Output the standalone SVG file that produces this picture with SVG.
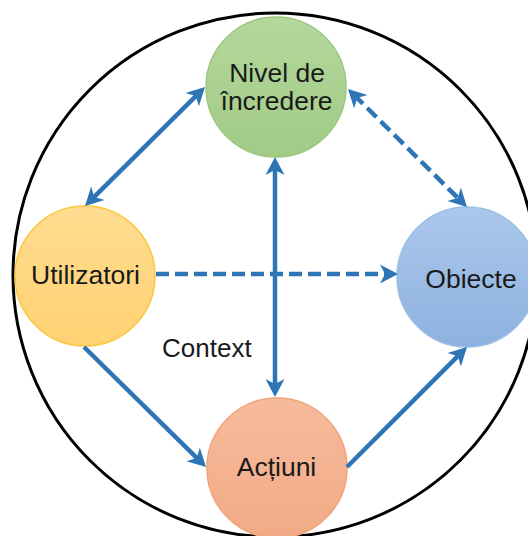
<svg xmlns="http://www.w3.org/2000/svg" width="528" height="536" viewBox="0 0 528 536">
  <style>
    .frame { fill: none; stroke: #000; stroke-width: 3; }
    .node { stroke-width: 1.5; }
    .label { font-family: "Liberation Sans", Arial, sans-serif; font-size: 26.5px; fill: #1a1a1a; text-anchor: middle; }
    .link { fill: none; stroke: #2e75b6; stroke-width: 4.5; }
    .dash { stroke-dasharray: 13 6; }
  </style>
  <defs>
    <linearGradient id="gGreen" x1="0" y1="0" x2="0" y2="1">
      <stop offset="0" stop-color="#b3d79c"/>
      <stop offset="1" stop-color="#a2cb86"/>
    </linearGradient>
    <linearGradient id="gYellow" x1="0" y1="0" x2="0" y2="1">
      <stop offset="0" stop-color="#ffdc90"/>
      <stop offset="1" stop-color="#ffd273"/>
    </linearGradient>
    <linearGradient id="gBlue" x1="0" y1="0" x2="0" y2="1">
      <stop offset="0" stop-color="#abc8eb"/>
      <stop offset="1" stop-color="#8db1e0"/>
    </linearGradient>
    <linearGradient id="gOrange" x1="0" y1="0" x2="0" y2="1">
      <stop offset="0" stop-color="#f6bb9c"/>
      <stop offset="1" stop-color="#f2aa86"/>
    </linearGradient>
    <marker id="ah" viewBox="-10 -10 20 20" markerWidth="20" markerHeight="20" refX="0" refY="0" orient="auto-start-reverse" markerUnits="userSpaceOnUse">
      <path d="M8,0 L-10,-9.5 L-5,0 L-10,9.5 Z" fill="#2e75b6"/>
    </marker>
  </defs>

  <!-- outer context boundary -->
  <circle class="frame" cx="275" cy="275" r="262"/>

  <g id="nivel-incredere">
    <circle class="node" cx="276" cy="87" r="70" fill="url(#gGreen)" stroke="#9cc781"/>
    <text class="label" x="277" y="82">Nivel de</text>
    <text class="label" x="276.5" y="110">încredere</text>
  </g>

  <g id="utilizatori">
    <circle class="node" cx="85" cy="276" r="70" fill="url(#gYellow)" stroke="#fcc63f"/>
    <text class="label" x="85.5" y="284">Utilizatori</text>
  </g>

  <g id="obiecte">
    <circle class="node" cx="467" cy="277" r="70" fill="url(#gBlue)" stroke="#9bbde6"/>
    <text class="label" x="471" y="288">Obiecte</text>
  </g>

  <g id="actiuni">
    <circle class="node" cx="277" cy="468" r="70" fill="url(#gOrange)" stroke="#f1a477"/>
    <text class="label" x="276.5" y="476">Acțiuni</text>
  </g>

  <g id="context-label">
    <text class="label" x="162" y="357" style="text-anchor: start; font-size: 26px;">Context</text>
  </g>

  <g id="connectors">
    <path class="link" d="M90.7,200.4 L199.3,92.6" marker-start="url(#ah)" marker-end="url(#ah)"/>
    <path class="link dash" d="M353.7,94.6 L461.3,201.4" marker-start="url(#ah)" marker-end="url(#ah)"/>
    <path class="link" d="M275,165 L275,389" marker-start="url(#ah)" marker-end="url(#ah)"/>
    <path class="link dash" d="M156,274 L390,274" marker-end="url(#ah)"/>
    <path class="link" d="M84,347 L200.3,461.4" marker-end="url(#ah)"/>
    <path class="link" d="M347,467 L461.3,352.7" marker-end="url(#ah)"/>
  </g>
</svg>
